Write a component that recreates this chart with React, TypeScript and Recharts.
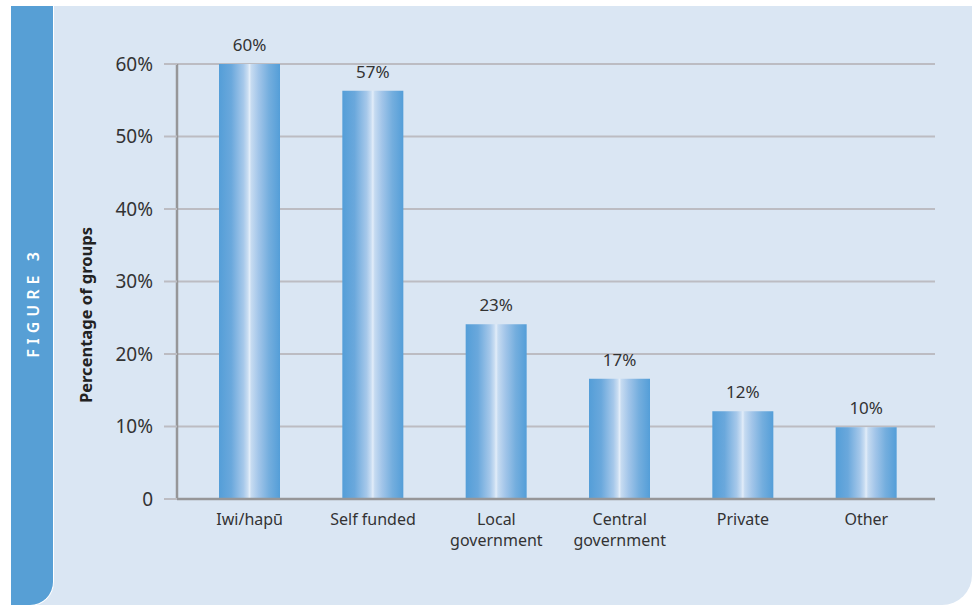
import { BarChart, Bar, XAxis, YAxis, CartesianGrid, LabelList, Label } from 'recharts';

const FONT = '"Noto Sans", "Open Sans", sans-serif';

const categories = ['Iwi/hapū', 'Self funded', 'Local\ngovernment', 'Central\ngovernment', 'Private', 'Other'];
const barValues = [60, 56.3, 24.1, 16.6, 12.1, 9.9];
const valueLabels = ['60%', '57%', '23%', '17%', '12%', '10%'];
const yTicks = [0, 10, 20, 30, 40, 50, 60];

const data = categories.map((name, i) => ({ name, value: barValues[i], label: valueLabels[i] }));

const CategoryTick = ({ x, y, payload }: any) => {
  const lines = String(payload.value).split('\n');
  return (
    <text x={x} y={y} textAnchor="middle" fill="#333" fontSize={16} fontFamily={FONT}>
      {lines.map((line, i) => (
        <tspan key={i} x={x} dy={i === 0 ? 18 : 21}>
          {line}
        </tspan>
      ))}
    </text>
  );
};

const renderBarLabel = (props: any) => {
  const { x, y, width, value } = props;
  return (
    <text x={x + width / 2} y={y - 13} textAnchor="middle" fill="#333" fontSize={17} fontFamily={FONT}>
      {value}
    </text>
  );
};

const renderYLabel = () => (
  <text
    transform="translate(92, 315) rotate(-90)"
    textAnchor="middle"
    fill="#222"
    fontSize={16.5}
    fontWeight="bold"
    fontFamily={FONT}
  >
    Percentage of groups
  </text>
);

export default function App() {
  return (
    <div style={{ position: 'fixed', left: 0, top: 0, width: 976, height: 605, background: '#fff', fontFamily: FONT }}>
      {/* panel */}
      <div
        style={{
          position: 'absolute',
          left: 11,
          top: 6,
          width: 961,
          height: 599,
          background: '#dae6f3',
          borderBottomRightRadius: 30,
        }}
      />
      {/* side strip */}
      <div
        style={{
          position: 'absolute',
          left: 11,
          top: 6,
          width: 42,
          height: 599,
          background: '#579fd5',
          borderRight: '1.5px solid #fff',
          borderBottom: '1px solid #fff',
          borderBottomRightRadius: 24,
        }}
      />
      <div
        style={{
          position: 'absolute',
          left: 33,
          top: 305,
          transform: 'translate(-50%, -50%) rotate(-90deg)',
          color: '#fff',
          fontSize: 16,
          fontWeight: 600,
          letterSpacing: 5,
          paddingLeft: 5,
          whiteSpace: 'nowrap',
        }}
      >
        FIGURE 3
      </div>

      <div style={{ position: 'absolute', left: 0, top: 0 }}>
        <BarChart width={976} height={605} data={data} margin={{ top: 64, right: 41, bottom: 46, left: 0 }}>
          <defs>
            <linearGradient id="barGrad" x1="0" y1="0" x2="1" y2="0">
              <stop offset="0%" stopColor="#549ed8" />
              <stop offset="20%" stopColor="#6aa8dc" />
              <stop offset="40%" stopColor="#a6c8ea" />
              <stop offset="47%" stopColor="#c9ddf2" />
              <stop offset="50%" stopColor="#e2edf9" />
              <stop offset="53%" stopColor="#c6dbf1" />
              <stop offset="65%" stopColor="#a2c5e9" />
              <stop offset="82%" stopColor="#74aede" />
              <stop offset="100%" stopColor="#549ed8" />
            </linearGradient>
          </defs>
          <CartesianGrid vertical={false} stroke="#bcbcc2" strokeWidth={2} />
          <XAxis
            dataKey="name"
            height={60}
            padding={{ left: 11, right: 7 }}
            axisLine={{ stroke: '#969698', strokeWidth: 2.5 }}
            tickLine={false}
            tick={<CategoryTick />}
            interval={0}
          />
          <YAxis
            width={177}
            domain={[0, 60]}
            ticks={yTicks}
            interval={0}
            tickFormatter={(v: number) => (v === 0 ? '0' : `${v}%`)}
            axisLine={{ stroke: '#969698', strokeWidth: 2.5 }}
            tickLine={{ stroke: '#bcbcc2', strokeWidth: 2 }}
            tickSize={13}
            tickMargin={11}
            tick={{ fill: '#333', fontSize: 19, fontFamily: FONT }}
          >
            <Label content={renderYLabel} />
          </YAxis>
          <Bar dataKey="value" barSize={61} fill="url(#barGrad)" isAnimationActive={false}>
            <LabelList dataKey="label" content={renderBarLabel} />
          </Bar>
        </BarChart>
      </div>
    </div>
  );
}
